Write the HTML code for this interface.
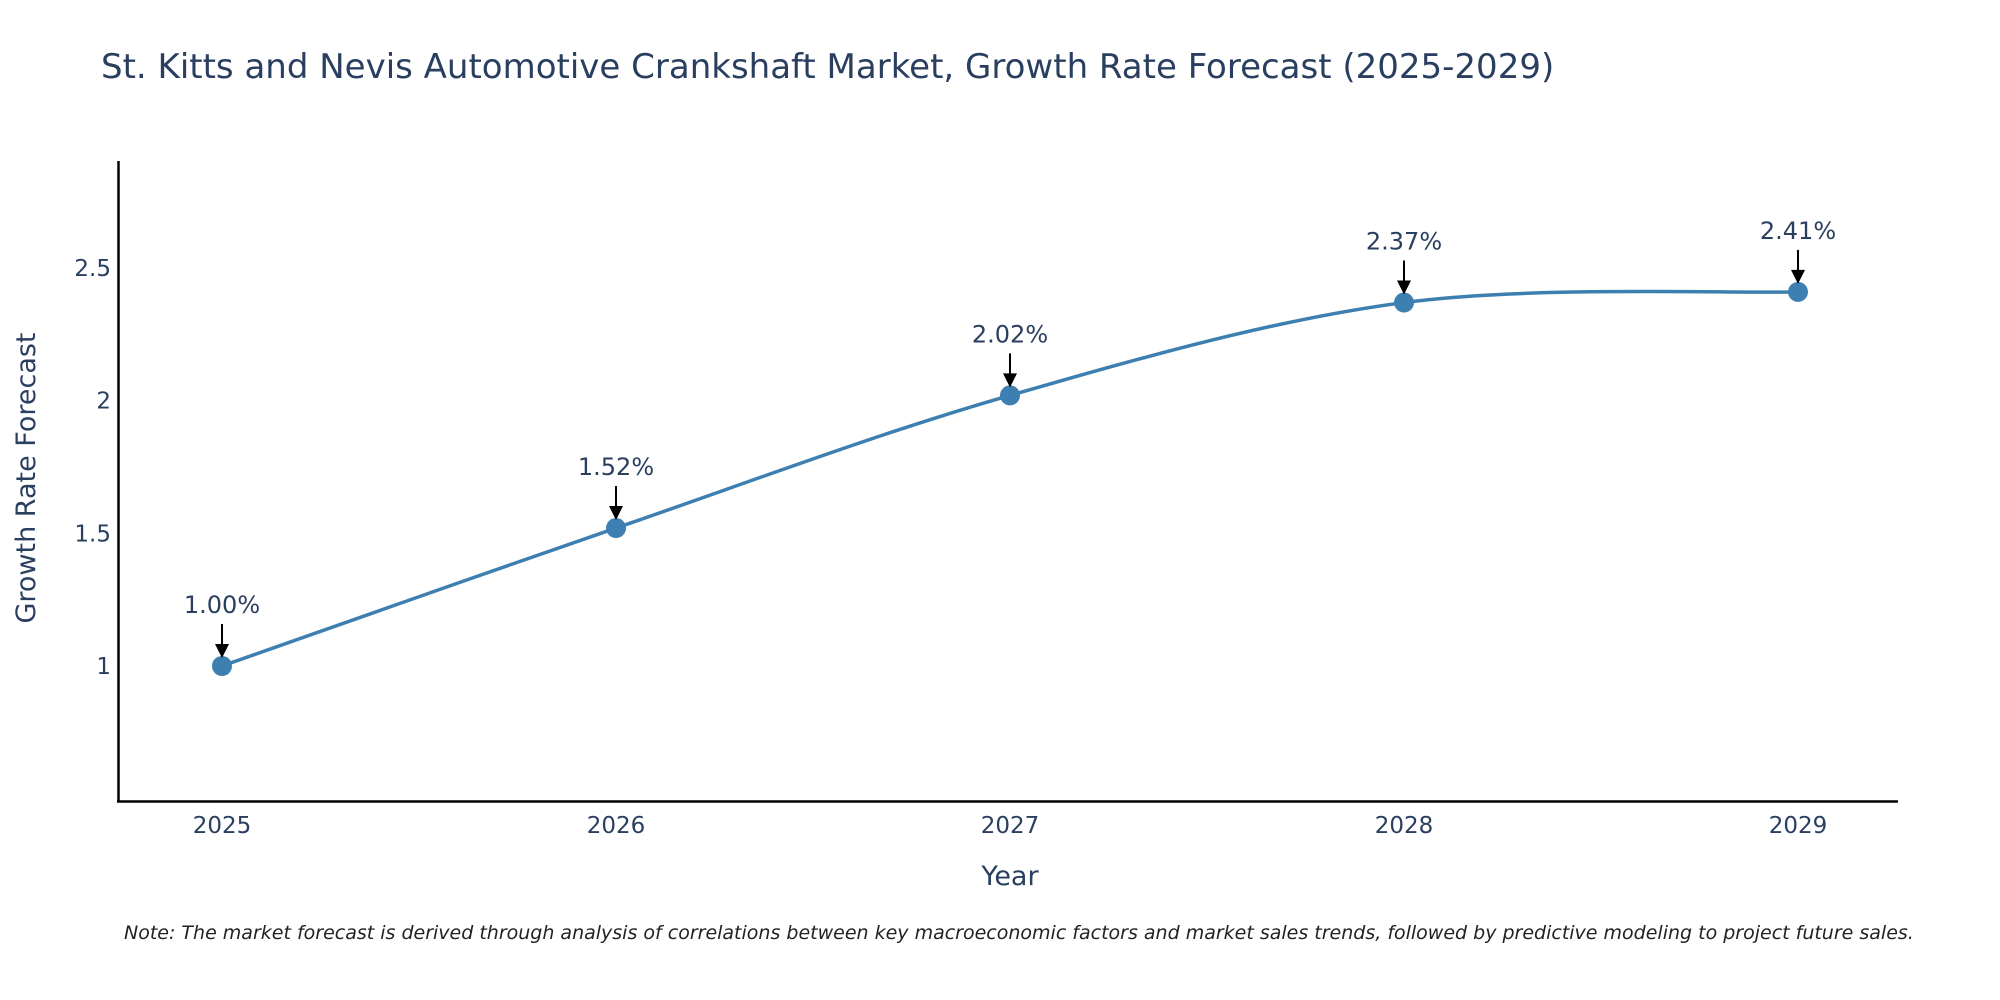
<!DOCTYPE html>
<html><head><meta charset="utf-8">
<style>
html,body{margin:0;padding:0;background:#fff;}
svg{display:block;font-family:"DejaVu Sans","Liberation Sans",sans-serif;}
</style></head>
<body>
<svg id="chart" width="2000" height="1000" viewBox="0 0 2000 1000" xmlns="http://www.w3.org/2000/svg">
  <rect width="2000" height="1000" fill="#fff"/>
  <text x="101" y="78" font-size="34" fill="#2a3f5f">St. Kitts and Nevis Automotive Crankshaft Market, Growth Rate Forecast (2025-2029)</text>
  <g id="yticks"></g>
  <g id="xticks"></g>
  <path id="line" fill="none" stroke="#3d7fb1" stroke-width="3.5"/>
  <g id="marks"></g>
  <g id="annots"></g>
  <line x1="118.5" y1="161" x2="118.5" y2="802" stroke="#000" stroke-width="2.5"/>
  <line x1="117" y1="801.5" x2="1898" y2="801.5" stroke="#000" stroke-width="2.5"/>
  <text x="1010" y="885" font-size="27" fill="#2a3f5f" text-anchor="middle">Year</text>
  <text transform="translate(35,478) rotate(-90)" font-size="27" fill="#2a3f5f" text-anchor="middle">Growth Rate Forecast</text>
  <text x="124" y="939" font-size="19" font-style="italic" fill="#222">Note: The market forecast is derived through analysis of correlations between key macroeconomic factors and market sales trends, followed by predictive modeling to project future sales.</text>
</svg>
<script>
const years = [2025, 2026, 2027, 2028, 2029];
const values = [1.00, 1.52, 2.02, 2.37, 2.41];
const labels = ["1.00%", "1.52%", "2.02%", "2.37%", "2.41%"];
const yTickValues = [1, 1.5, 2, 2.5];
const yTickLabels = ["1", "1.5", "2", "2.5"];

const NS = "http://www.w3.org/2000/svg";
function xScale(yr){ return 222 + (yr - 2025) * (1798 - 222) / 4; }
function yScale(v){ return 666 - (v - 1) * 265.3; }
function mk(tag, attrs, parent){ const e=document.createElementNS(NS,tag); for(const k in attrs) e.setAttribute(k,attrs[k]); parent.appendChild(e); return e; }

const yt = document.getElementById('yticks');
yTickValues.forEach((v,i)=>{
  const t = mk('text',{x:111,y:yScale(v)+8,'font-size':23,fill:'#2a3f5f','text-anchor':'end'},yt);
  
  
  t.textContent = yTickLabels[i];
});
const xt = document.getElementById('xticks');
years.forEach(yr=>{
  const t = mk('text',{x:xScale(yr),y:833,'font-size':23,fill:'#2a3f5f','text-anchor':'middle'},xt);
  
  
  t.textContent = String(yr);
});

const pts = years.map((yr,i)=>[xScale(yr), yScale(values[i])]);
let d = `M${pts[0][0]},${pts[0][1]}`;
for(let i=0;i<pts.length-1;i++){
  const p0 = pts[i-1]||pts[i], p1=pts[i], p2=pts[i+1], p3=pts[i+2]||p2;
  const c1=[p1[0]+(p2[0]-p0[0])/6, p1[1]+(p2[1]-p0[1])/6];
  const c2=[p2[0]-(p3[0]-p1[0])/6, p2[1]-(p3[1]-p1[1])/6];
  d += ` C${c1[0]},${c1[1]} ${c2[0]},${c2[1]} ${p2[0]},${p2[1]}`;
}
document.getElementById('line').setAttribute('d', d);

const mg = document.getElementById('marks');
const ag = document.getElementById('annots');
pts.forEach((p,i)=>{
  const c = mk('circle',{cx:p[0],cy:p[1],r:10,fill:'#3d7fb1'},mg);
  
  
  const l = mk('line',{x1:p[0],y1:p[1]-42,x2:p[0],y2:p[1]-20,stroke:'#000','stroke-width':2},ag);
  
  
  const h = mk('polygon',{points:`${p[0]-7},${p[1]-22} ${p[0]+7},${p[1]-22} ${p[0]},${p[1]-8}`,fill:'#000'},ag);
  
  
  const t = mk('text',{x:p[0],y:p[1]-53,'font-size':24,fill:'#2a3f5f','text-anchor':'middle'},ag);
  
  
  t.textContent = labels[i];
});
</script>
</body></html>
